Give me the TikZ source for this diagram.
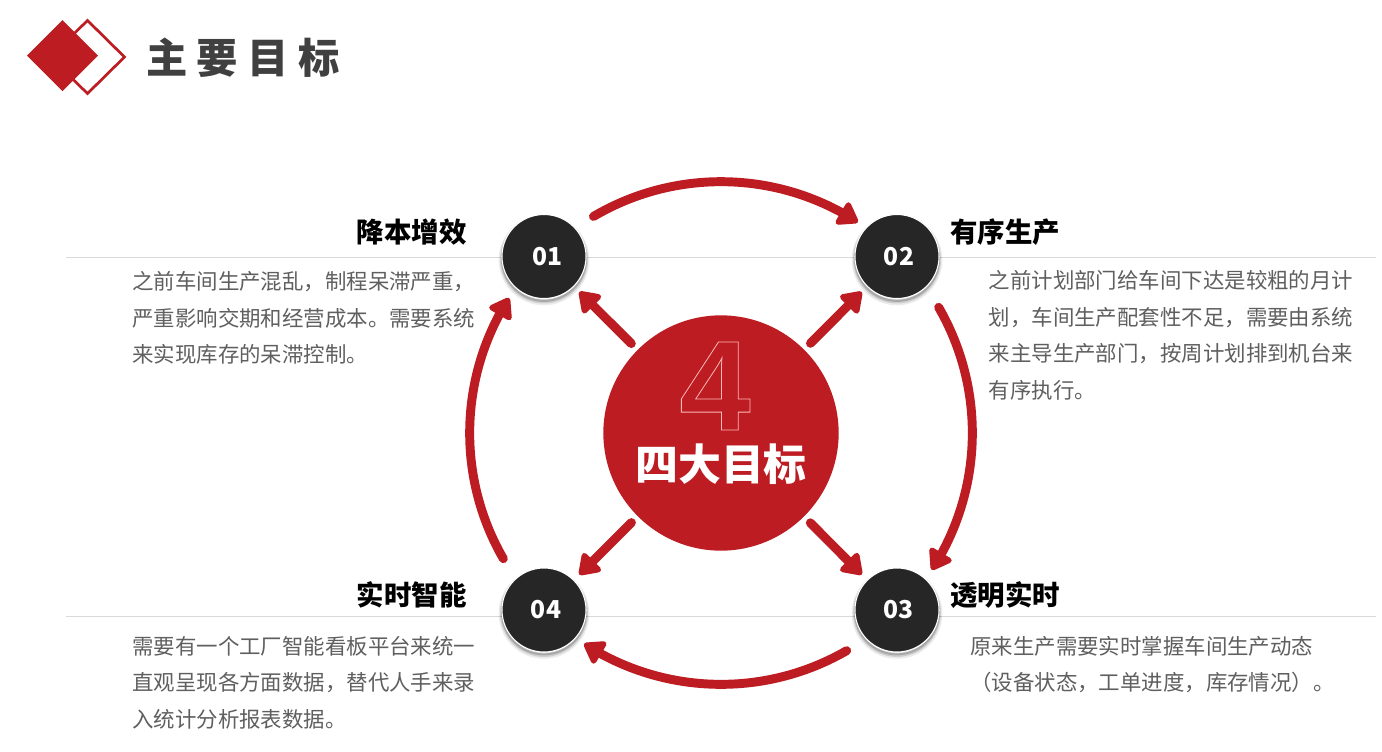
\documentclass[tikz,border=0pt]{standalone}
\usepackage{fontspec}
\setmainfont{Noto Sans CJK SC}
\newfontfamily\digitfont{Liberation Sans}
\usetikzlibrary{arrows.meta,calc,bending}
\definecolor{brandred}{HTML}{BC1C22}
\definecolor{inkdark}{HTML}{262626}
\definecolor{titlegray}{HTML}{404040}
\definecolor{bodygray}{HTML}{5F5F5F}
\definecolor{rulegray}{HTML}{D9D9D9}
\newcommand{\fs}[1]{\fontsize{#1}{#1}\selectfont}
\tikzset{
  x=.75pt,y=-.75pt,
  redhead/.style={-{Triangle[length=16.5pt,width=21.5pt,round,flex]}},
  arcarrow/.style={redhead,draw=brandred,line width=6.7pt,line cap=round},
  spoke/.style={-{Triangle[length=16.5pt,width=21.5pt,round]},draw=brandred,line width=6.7pt,line cap=round,shorten <=95pt,shorten >=37.5pt},
  numdisc/.style={circle,minimum size=63pt,inner sep=0pt,fill=inkdark,draw=white,line width=.8pt,text=white,font=\bfseries\fs{18.5},
    preaction={draw=black,draw opacity=.08,line width=5pt,transform canvas={yshift=-2.6pt}},
    preaction={draw=black,draw opacity=.12,line width=3pt,transform canvas={yshift=-2.2pt}},
    preaction={draw=black,draw opacity=.18,line width=1.5pt,transform canvas={yshift=-1.8pt}}},
  heading/.style={inner sep=0pt,text=black,font=\bfseries\fs{20.6}},
  body/.style={inner sep=0pt,anchor=north west,align=left,text=bodygray,font=\fontsize{16.08}{27.35}\selectfont},
  rulerline/.style={draw=rulegray,line width=.6pt}
}
\begin{document}
\begin{tikzpicture}
\useasboundingbox[fill=white] (0,0) rectangle (1382,751);
% rules
\coordinate (r1a) at (66,257); \coordinate (r1b) at (1376,257);
\coordinate (r2a) at (66,616); \coordinate (r2b) at (1376,616);
\draw[rulerline] (r1a) -- (r1b);
\draw[rulerline] (r2a) -- (r2b);
% logo
\draw[draw=brandred,line width=2pt,fill=white] (87.5,20.5) -- (124.5,57) -- (87.5,93.5) -- (50,57) -- cycle;
\fill[brandred] (62.5,20) -- (98,55.5) -- (62.5,91) -- (27,55.5) -- cycle;
\node[inner sep=0pt,anchor=west,text=titlegray,font=\bfseries\fs{31}] (title) at (146,58) {主\kern7pt 要\kern7pt 目\kern7pt 标};
% hub
\node[circle,minimum size=176.5pt,inner sep=0pt,fill=brandred] (hub) at (721,433) {};
\node[inner sep=0pt,text=white,font=\digitfont\bfseries\fs{96}] (four) at (715,386) {\special{pdf:code 1 Tr 0.6 w 1 .72 .72 RG}4\special{pdf:code 0 Tr}};
\node[inner sep=0pt,text=white,font=\bfseries\fs{32.2}] (hubtext) at (721,464) {四大目标};
% discs
\node[numdisc] (n1) at (544,256.5) {\hspace{5pt}01};
\node[numdisc] (n2) at (897,256.5) {\hspace{3pt}02};
\node[numdisc] (n3) at (897,610) {\hspace{2pt}03};
\node[numdisc] (n4) at (544,610) {\hspace{3pt}04};
% spokes
\draw[spoke] (hub.center) -- (n1.center);
\draw[spoke] (hub.center) -- (n2.center);
\draw[spoke] (hub.center) -- (n3.center);
\draw[spoke] (hub.center) -- (n4.center);
% ring arcs
\coordinate (a1) at ($(hub.center)+(120.5:188.5pt)$);
\coordinate (a2) at ($(hub.center)+(30:188.5pt)$);
\coordinate (a3) at ($(hub.center)+(-60:188.5pt)$);
\coordinate (a4) at ($(hub.center)+(210:188.5pt)$);
\draw[arcarrow] (a1) arc[start angle=120.5,end angle=57,radius=188.5pt];
\draw[arcarrow] (a2) arc[start angle=30,end angle=-33,radius=188.5pt];
\draw[arcarrow] (a3) arc[start angle=-60,end angle=-123,radius=188.5pt];
\draw[arcarrow] (a4) arc[start angle=210,end angle=147.5,radius=188.5pt];
% headings
\node[heading,anchor=east] (h1) at (467,232) {降本增效};
\node[heading,anchor=west] (h2) at (950,232) {有序生产};
\node[heading,anchor=west] (h3) at (950,595) {透明实时};
\node[heading,anchor=east] (h4) at (467,595) {实时智能};
% body
\node[body] (b1) at (132,271.5) {之前车间生产混乱，制程呆滞严重，\\严重影响交期和经营成本。需要系统\\来实现库存的呆滞控制。};
\node[body] (b2) at (988.5,270.5) {之前计划部门给车间下达是较粗的月计\\划，车间生产配套性不足，需要由系统\\来主导生产部门，按周计划排到机台来\\有序执行。};
\node[body] (b3) at (970,636) {原来生产需要实时掌握车间生产动态\\（设备状态，工单进度，库存情况）。};
\node[body] (b4) at (132,636) {需要有一个工厂智能看板平台来统一\\直观呈现各方面数据，替代人手来录\\入统计分析报表数据。};
\end{tikzpicture}
\end{document}
